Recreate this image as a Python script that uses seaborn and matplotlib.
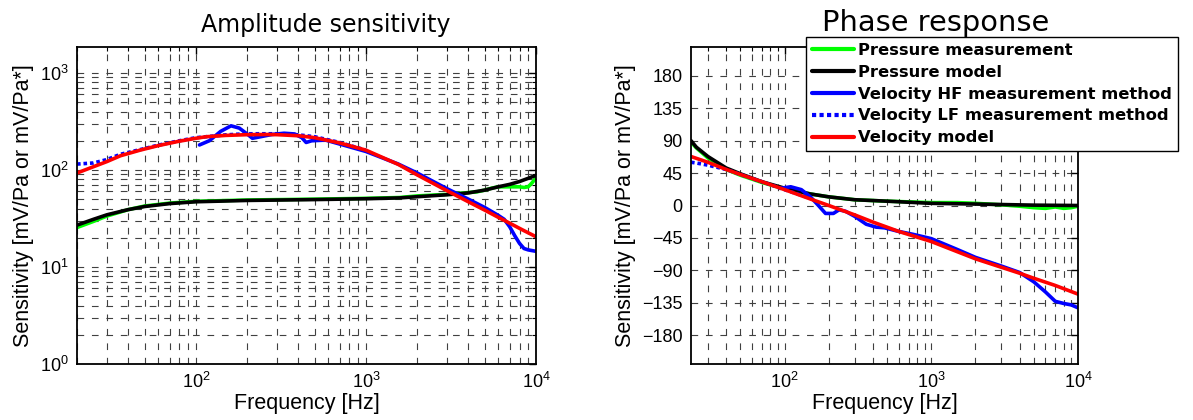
import numpy as np
import pandas as pd
import seaborn as sns
import matplotlib.pyplot as plt
from matplotlib.ticker import FixedLocator

# Amplitude sensitivity (left)
amp_p_meas_f = [20, 25, 30, 40, 50, 70, 100, 200, 500, 1000, 1580, 2000, 3000, 4500, 5000, 5500, 6000, 7000, 8000, 8500, 9000, 9500, 10000]
amp_p_meas = [25.5, 29.5, 33.5, 39, 42.5, 45.5, 47.5, 49, 50, 51, 52, 54, 56, 59.5, 62, 65, 67, 67, 67, 66, 67, 74, 83]

amp_p_model_f = [20, 25, 30, 40, 50, 70, 100, 200, 500, 1000, 1580, 2000, 3000, 4000, 5000, 6000, 7000, 8000, 9000, 10000]
amp_p_model = [27, 31, 34.5, 39, 42, 45, 47, 48.5, 49.5, 50.5, 51.5, 53, 55.5, 58, 62, 67, 71, 76, 82, 88]

amp_v_hf_f = [105, 120, 140, 161, 180, 200, 215, 240, 280, 330, 380, 420, 445, 480, 580, 700, 1000, 1550, 2000, 3000, 4000, 5000, 6000, 6500, 7000, 7500, 8000, 8500, 9000, 10000]
amp_v_hf = [181, 200, 250, 285, 270, 235, 212, 220, 232, 239, 235, 215, 192, 200, 203, 185, 155, 115, 93, 64, 50, 41, 34, 31, 26, 21, 17.5, 15.5, 15, 14.5]

amp_v_lf_f = [20, 25, 30, 36, 47, 60, 80, 100, 150, 200, 300, 400, 500, 700, 1000]
amp_v_lf = [115, 118, 128, 145, 162, 180, 200, 215, 230, 236, 236, 230, 220, 192, 160]

amp_v_model_f = [20, 25, 30, 36, 47, 60, 80, 100, 115, 150, 200, 260, 300, 405, 500, 700, 1000, 1550, 2000, 3000, 4000, 5000, 6000, 7000, 8000, 9000, 10000]
amp_v_model = [93, 108, 122, 140, 160, 178, 198, 212, 220, 227, 231, 232, 231, 225, 215, 190, 160, 114, 89, 61, 47, 38.5, 32.5, 28.3, 25, 22.5, 20.5]

# Phase response (right)
ph_p_meas_f = [23, 25, 30, 40, 50, 70, 100, 150, 200, 300, 500, 1000, 1500, 2000, 3000, 4000, 5000, 6000, 7000, 8000, 9000, 10000]
ph_p_meas = [88, 80, 66, 50, 42, 32, 23, 16, 12, 8, 6, 4, 4, 3, 1, -1, -3, -4, -2, -4, -3, -1]

ph_p_model_f = [23, 25, 30, 40, 50, 70, 100, 150, 200, 300, 500, 1000, 2000, 5000, 10000]
ph_p_model = [90, 81, 68, 52, 44, 33, 24, 16, 12, 8, 6, 3, 2, 0.5, 0]

ph_v_hf_f = [95, 110, 130, 150, 170, 190, 215, 235, 260, 300, 360, 420, 480, 600, 750, 1000, 1500, 2000, 3000, 4000, 5000, 6000, 7000, 8000, 9000, 10000]
ph_v_hf = [24, 26, 22, 12, 0, -11, -11, -6, -8, -15, -26, -30, -31, -36, -40, -46, -61, -72, -84, -93, -106, -120, -133, -136, -138, -142]

ph_v_lf_f = [23, 25, 30, 40, 50, 70, 100, 150]
ph_v_lf = [60, 59, 56, 50, 43, 33, 22, 10]

ph_v_model_f = [23, 30, 40, 50, 70, 100, 150, 200, 300, 400, 600, 1000, 2000, 4000, 5000, 7000, 10000]
ph_v_model = [68, 60, 50, 43, 33, 22, 9, 0, -13, -23, -36, -50, -74, -94, -101, -111, -123]

labels = ['Pressure measurement', 'Pressure model', 'Velocity HF measurement method',
          'Velocity LF measurement method', 'Velocity model']
colors = ['#00ff00', 'black', '#0000ff', '#0000ff', '#ff0000']
styles = ['-', '-', '-', (0, (1, 0.8)), '-']

sns.set_style('white')
plt.rcParams['font.family'] = ['Liberation Sans', 'DejaVu Sans']
plt.rcParams['text.color'] = 'black'
plt.rcParams['axes.labelcolor'] = 'black'
plt.rcParams['xtick.color'] = 'black'
plt.rcParams['ytick.color'] = 'black'
plt.rcParams['xtick.direction'] = 'in'
plt.rcParams['ytick.direction'] = 'in'

fig = plt.figure(figsize=(11.93, 4.2), dpi=100)
ax1 = fig.add_axes([77 / 1193, 56 / 420, 459 / 1193, 317 / 420])
ax2 = fig.add_axes([691 / 1193, 56 / 420, 387 / 1193, 317 / 420])

amp_sets = [(amp_p_meas_f, amp_p_meas), (amp_p_model_f, amp_p_model), (amp_v_hf_f, amp_v_hf),
            (amp_v_lf_f, amp_v_lf), (amp_v_model_f, amp_v_model)]
ph_sets = [(ph_p_meas_f, ph_p_meas), (ph_p_model_f, ph_p_model), (ph_v_hf_f, ph_v_hf),
           (ph_v_lf_f, ph_v_lf), (ph_v_model_f, ph_v_model)]

for (f, v), lab, c, ls in zip(amp_sets, labels, colors, styles):
    sns.lineplot(x=f, y=v, ax=ax1, color=c, linestyle=ls, linewidth=2.6, label=lab, legend=False)
for (f, v), lab, c, ls in zip(ph_sets, labels, colors, styles):
    sns.lineplot(x=f, y=v, ax=ax2, color=c, linestyle=ls, linewidth=2.6, label=lab, legend=False)

grid_kw = dict(color='0.25', linestyle=(0, (6, 7)), linewidth=0.8)

ax1.set_xscale('log')
ax1.set_yscale('log')
ax1.set_xlim(20, 1e4)
ax1.set_ylim(1, 1850)
ax1.grid(which='both', **grid_kw)

ax2.set_xscale('log')
ax2.set_xlim(23, 1e4)
ax2.set_ylim(-220, 220)
ax2.yaxis.set_major_locator(FixedLocator(np.arange(-180, 181, 45)))
ax2.grid(which='major', axis='y', **grid_kw)
ax2.grid(which='both', axis='x', **grid_kw)

for ax in (ax1, ax2):
    ax.set_axisbelow(True)
    ax.tick_params(which='both', top=True, right=True, labelsize=13, color='black')
    ax.tick_params(which='major', length=5, width=1, pad=6)
    ax.tick_params(which='minor', length=3, width=0.8)
    for s in ax.spines.values():
        s.set_color('black')
        s.set_linewidth(1.3)
    ax.set_xlabel('Frequency [Hz]', fontsize=15.5)
    ax.set_ylabel('Sensitivity [mV/Pa or mV/Pa*]', fontsize=15.5)
    ax.xaxis.set_label_coords(0.5, -0.09)

ax1.yaxis.set_label_coords(-0.094, 0.5)
ax2.yaxis.set_label_coords(-0.142, 0.5)

fig.text(326 / 1193, 1 - 32 / 420, 'Amplitude sensitivity', ha='center', va='baseline',
         fontsize=17, family='DejaVu Sans')
fig.text(935.5 / 1193, 1 - 31 / 420, 'Phase response', ha='center', va='baseline',
         fontsize=20.8, family='DejaVu Sans')

leg = ax2.legend(loc='upper left', bbox_to_anchor=(806 / 1193, 1 - 37 / 420),
                 bbox_transform=fig.transFigure, borderaxespad=0, frameon=True, fancybox=False,
                 prop={'family': 'DejaVu Sans', 'weight': 'bold', 'size': 11.8},
                 handlelength=2.55, handletextpad=0.3, labelspacing=0.42, borderpad=0.35)
leg.get_frame().set_edgecolor('black')
leg.get_frame().set_linewidth(1.0)
leg.get_frame().set_alpha(1)
for h in leg.get_lines():
    h.set_linewidth(3)

fig.savefig('out.png', dpi=100)
